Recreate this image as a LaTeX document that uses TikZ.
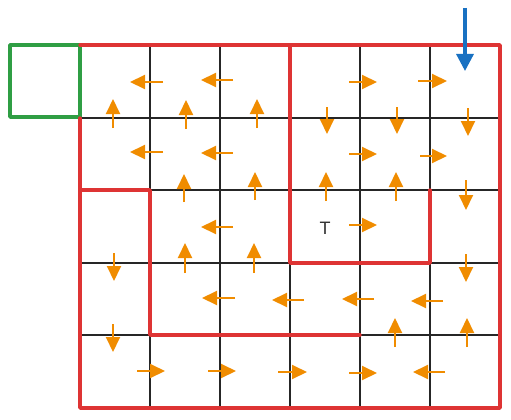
\documentclass[tikz,border=0pt]{standalone}
\usepackage{fontspec}
\setsansfont{Liberation Sans}
\usetikzlibrary{arrows.meta}
\definecolor{wallred}{RGB}{222,52,52}
\definecolor{startgreen}{RGB}{47,158,68}
\definecolor{flow}{RGB}{240,140,0}
\definecolor{entry}{RGB}{25,113,194}
\tikzset{
  gridline/.style={line width=1.5pt, black!85},
  wall/.style={line width=3.4pt, wallred, line cap=round, line join=round},
  startbox/.style={line width=3.4pt, startgreen, line join=round},
  flowarrow/.style={line width=2pt, flow, -{Triangle[width=14pt,length=15pt]}},
  entryarrow/.style={line width=3.2pt, entry, -{Triangle[width=17pt,length=17pt]}},
}
\begin{document}
\begin{tikzpicture}[x=1pt,y=-1pt]
\useasboundingbox (0,0) rectangle (511,420);
% grid
\foreach \x in {150,220,290,360,430} \draw[gridline] (\x,45) -- (\x,408);
\foreach \y in {118,190,263,335} \draw[gridline] (80,\y) -- (500,\y);
% start box
\draw[startbox] (80,45) rectangle (10,117);
% walls
\draw[wall] (80,118) -- (80,408) -- (500,408) -- (500,45) -- (80,45);
\draw[wall] (80,190) -- (150,190) -- (150,335) -- (360,335);
\draw[wall] (290,45) -- (290,263) -- (430,263) -- (430,190);
% entry arrow
\draw[entryarrow] (465,8) -- (465,71);
% target
\node[font=\sffamily\fontsize{18}{18}\selectfont, text=black!80] (T) at (325,228) {T};
% row 0
\draw[flowarrow] (163,82) -- (130,82);
\draw[flowarrow] (233,80) -- (201,80);
\draw[flowarrow] (349,82) -- (377,82);
\draw[flowarrow] (418,81) -- (447,81);
\draw[flowarrow] (113,128) -- (113,99);
\draw[flowarrow] (186,129) -- (186,100);
\draw[flowarrow] (257,128) -- (257,99);
\draw[flowarrow] (327,107) -- (327,134);
\draw[flowarrow] (397,107) -- (397,134);
\draw[flowarrow] (468,108) -- (468,136);
% row 1
\draw[flowarrow] (163,152) -- (130,152);
\draw[flowarrow] (233,153) -- (201,153);
\draw[flowarrow] (349,154) -- (377,154);
\draw[flowarrow] (420,156) -- (447,156);
\draw[flowarrow] (184,202) -- (184,174);
\draw[flowarrow] (255,200) -- (255,172);
\draw[flowarrow] (326,201) -- (326,172);
\draw[flowarrow] (396,201) -- (396,172);
\draw[flowarrow] (466,180) -- (466,210);
% row 2
\draw[flowarrow] (233,227) -- (201,227);
\draw[flowarrow] (349,225) -- (377,225);
\draw[flowarrow] (185,273) -- (185,243);
\draw[flowarrow] (254,273) -- (254,243);
\draw[flowarrow] (114,253) -- (114,281);
\draw[flowarrow] (466,254) -- (466,282);
% row 3
\draw[flowarrow] (113,324) -- (113,352);
\draw[flowarrow] (235,298) -- (202,298);
\draw[flowarrow] (304,300) -- (272,300);
\draw[flowarrow] (374,299) -- (342,299);
\draw[flowarrow] (443,301) -- (411,301);
\draw[flowarrow] (395,347) -- (395,318);
\draw[flowarrow] (467,347) -- (467,318);
% row 4
\draw[flowarrow] (137,371) -- (165,371);
\draw[flowarrow] (208,371) -- (236,371);
\draw[flowarrow] (278,372) -- (307,372);
\draw[flowarrow] (349,373) -- (377,373);
\draw[flowarrow] (445,372) -- (413,372);
\end{tikzpicture}
\end{document}
